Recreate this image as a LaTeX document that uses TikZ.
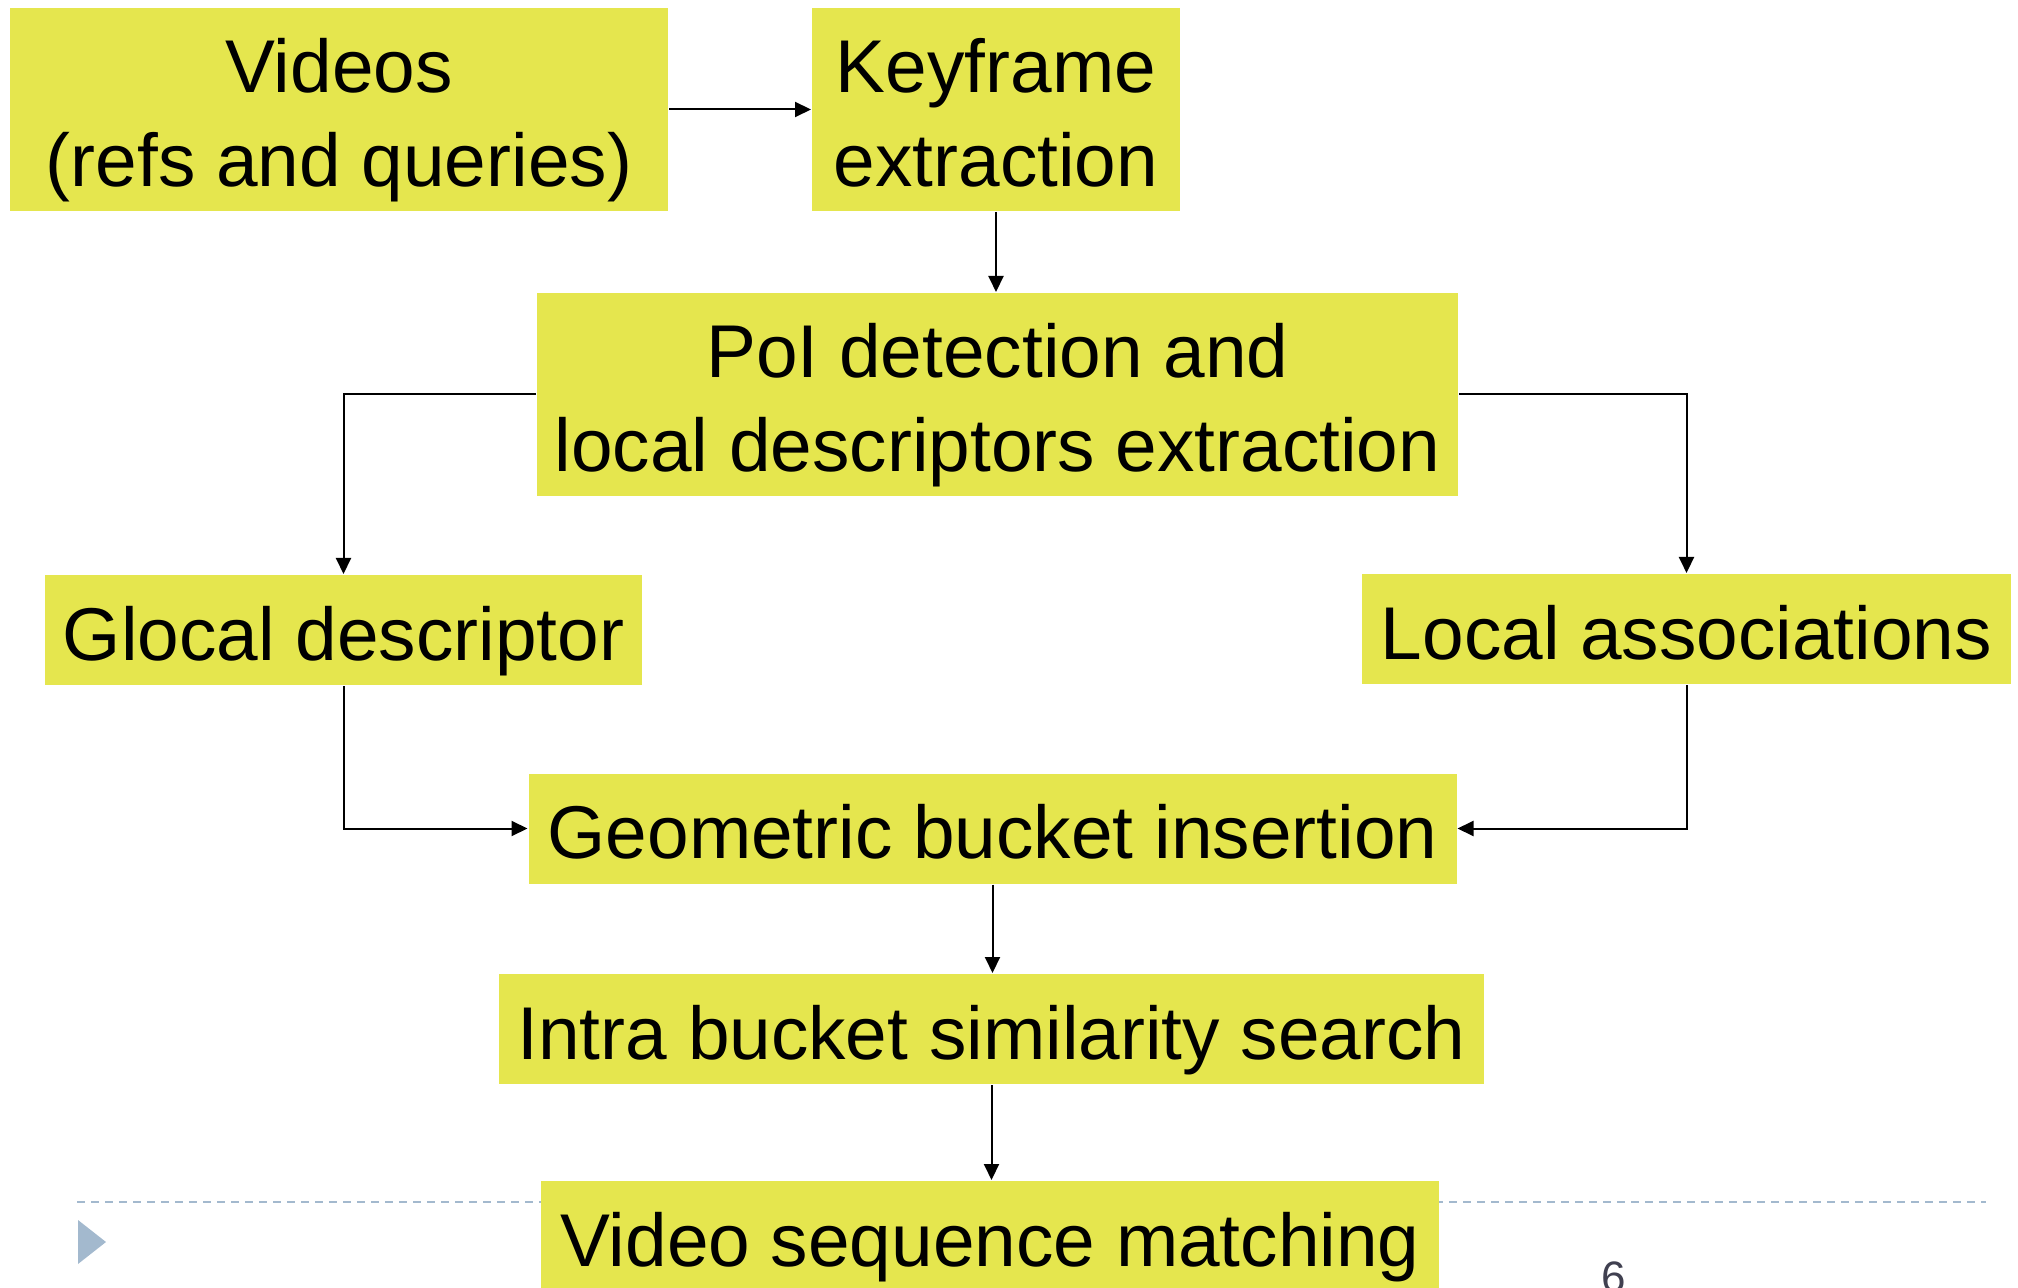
\documentclass[tikz,border=0pt]{standalone}
\usepackage{fontspec}
\setmainfont{Liberation Sans}
\usetikzlibrary{arrows.meta}
\definecolor{boxyellow}{RGB}{229,230,78}
\definecolor{slideblue}{RGB}{163,185,206}
\definecolor{numgray}{RGB}{64,64,80}

\begin{document}
\begin{tikzpicture}[x=0.5pt, y=-0.5pt,
    ->,
    >={Triangle[length=8pt,width=7.5pt]},
    line width=1pt,
    bb/.style={%
      rectangle, draw=none, fill=boxyellow, inner sep=0pt, align=center,
      font=\fontsize{37.4}{47}\selectfont, text height=30pt, text depth=0pt,
      minimum height=55pt
    },
    tall/.style={%
      bb, text height=77pt, minimum height=101.5pt
    }
]
    \useasboundingbox (0,0) rectangle (2018,1288);

    % slide footer
    \draw[-, slideblue, line width=1.3pt, dash pattern=on 4pt off 3pt] (77,1202) -- (1986,1202);
    \fill[slideblue] (78,1220) -- (106,1242) -- (78,1264) -- cycle;
    \node[numgray, font=\fontsize{22}{26}\selectfont, anchor=base] (page) at (1614,1292) {6};

    \node[tall, minimum width=329pt]   (videos)   at (339,109.5)  {Videos\\(refs and queries)};
    \node[tall, minimum width=184pt]   (keyframe) at (996,109.5)  {Keyframe\\extraction};
    \node[tall, minimum width=460.5pt] (poi)      at (997.5,394.5) {PoI detection and\\local descriptors extraction};
    \node[bb, minimum width=298.5pt]   (glocal)   at (343.5,630)  {Glocal descriptor};
    \node[bb, minimum width=324.5pt]   (local)    at (1686.5,629) {Local associations};
    \node[bb, minimum width=464pt]     (geom)     at (992.5,828.5) {Geometric bucket insertion};
    \node[bb, minimum width=492.5pt]   (intra)    at (991.5,1029) {Intra bucket similarity search};
    \node[bb, minimum width=449pt]     (vseq)     at (990,1236)   {Video sequence matching};

    \path (videos) edge (keyframe)
          (keyframe.south) edge (keyframe.south |- poi.north)
          (geom.south) edge (geom.south |- intra.north)
          (intra.south) edge (intra.south |- vseq.north)
    ;
    \draw (poi.west) -| (glocal.north);
    \draw (poi.east) -| (local.north);
    \draw (glocal.south) |- (geom.west);
    \draw (local.south) |- (geom.east);

\end{tikzpicture}
\end{document}
